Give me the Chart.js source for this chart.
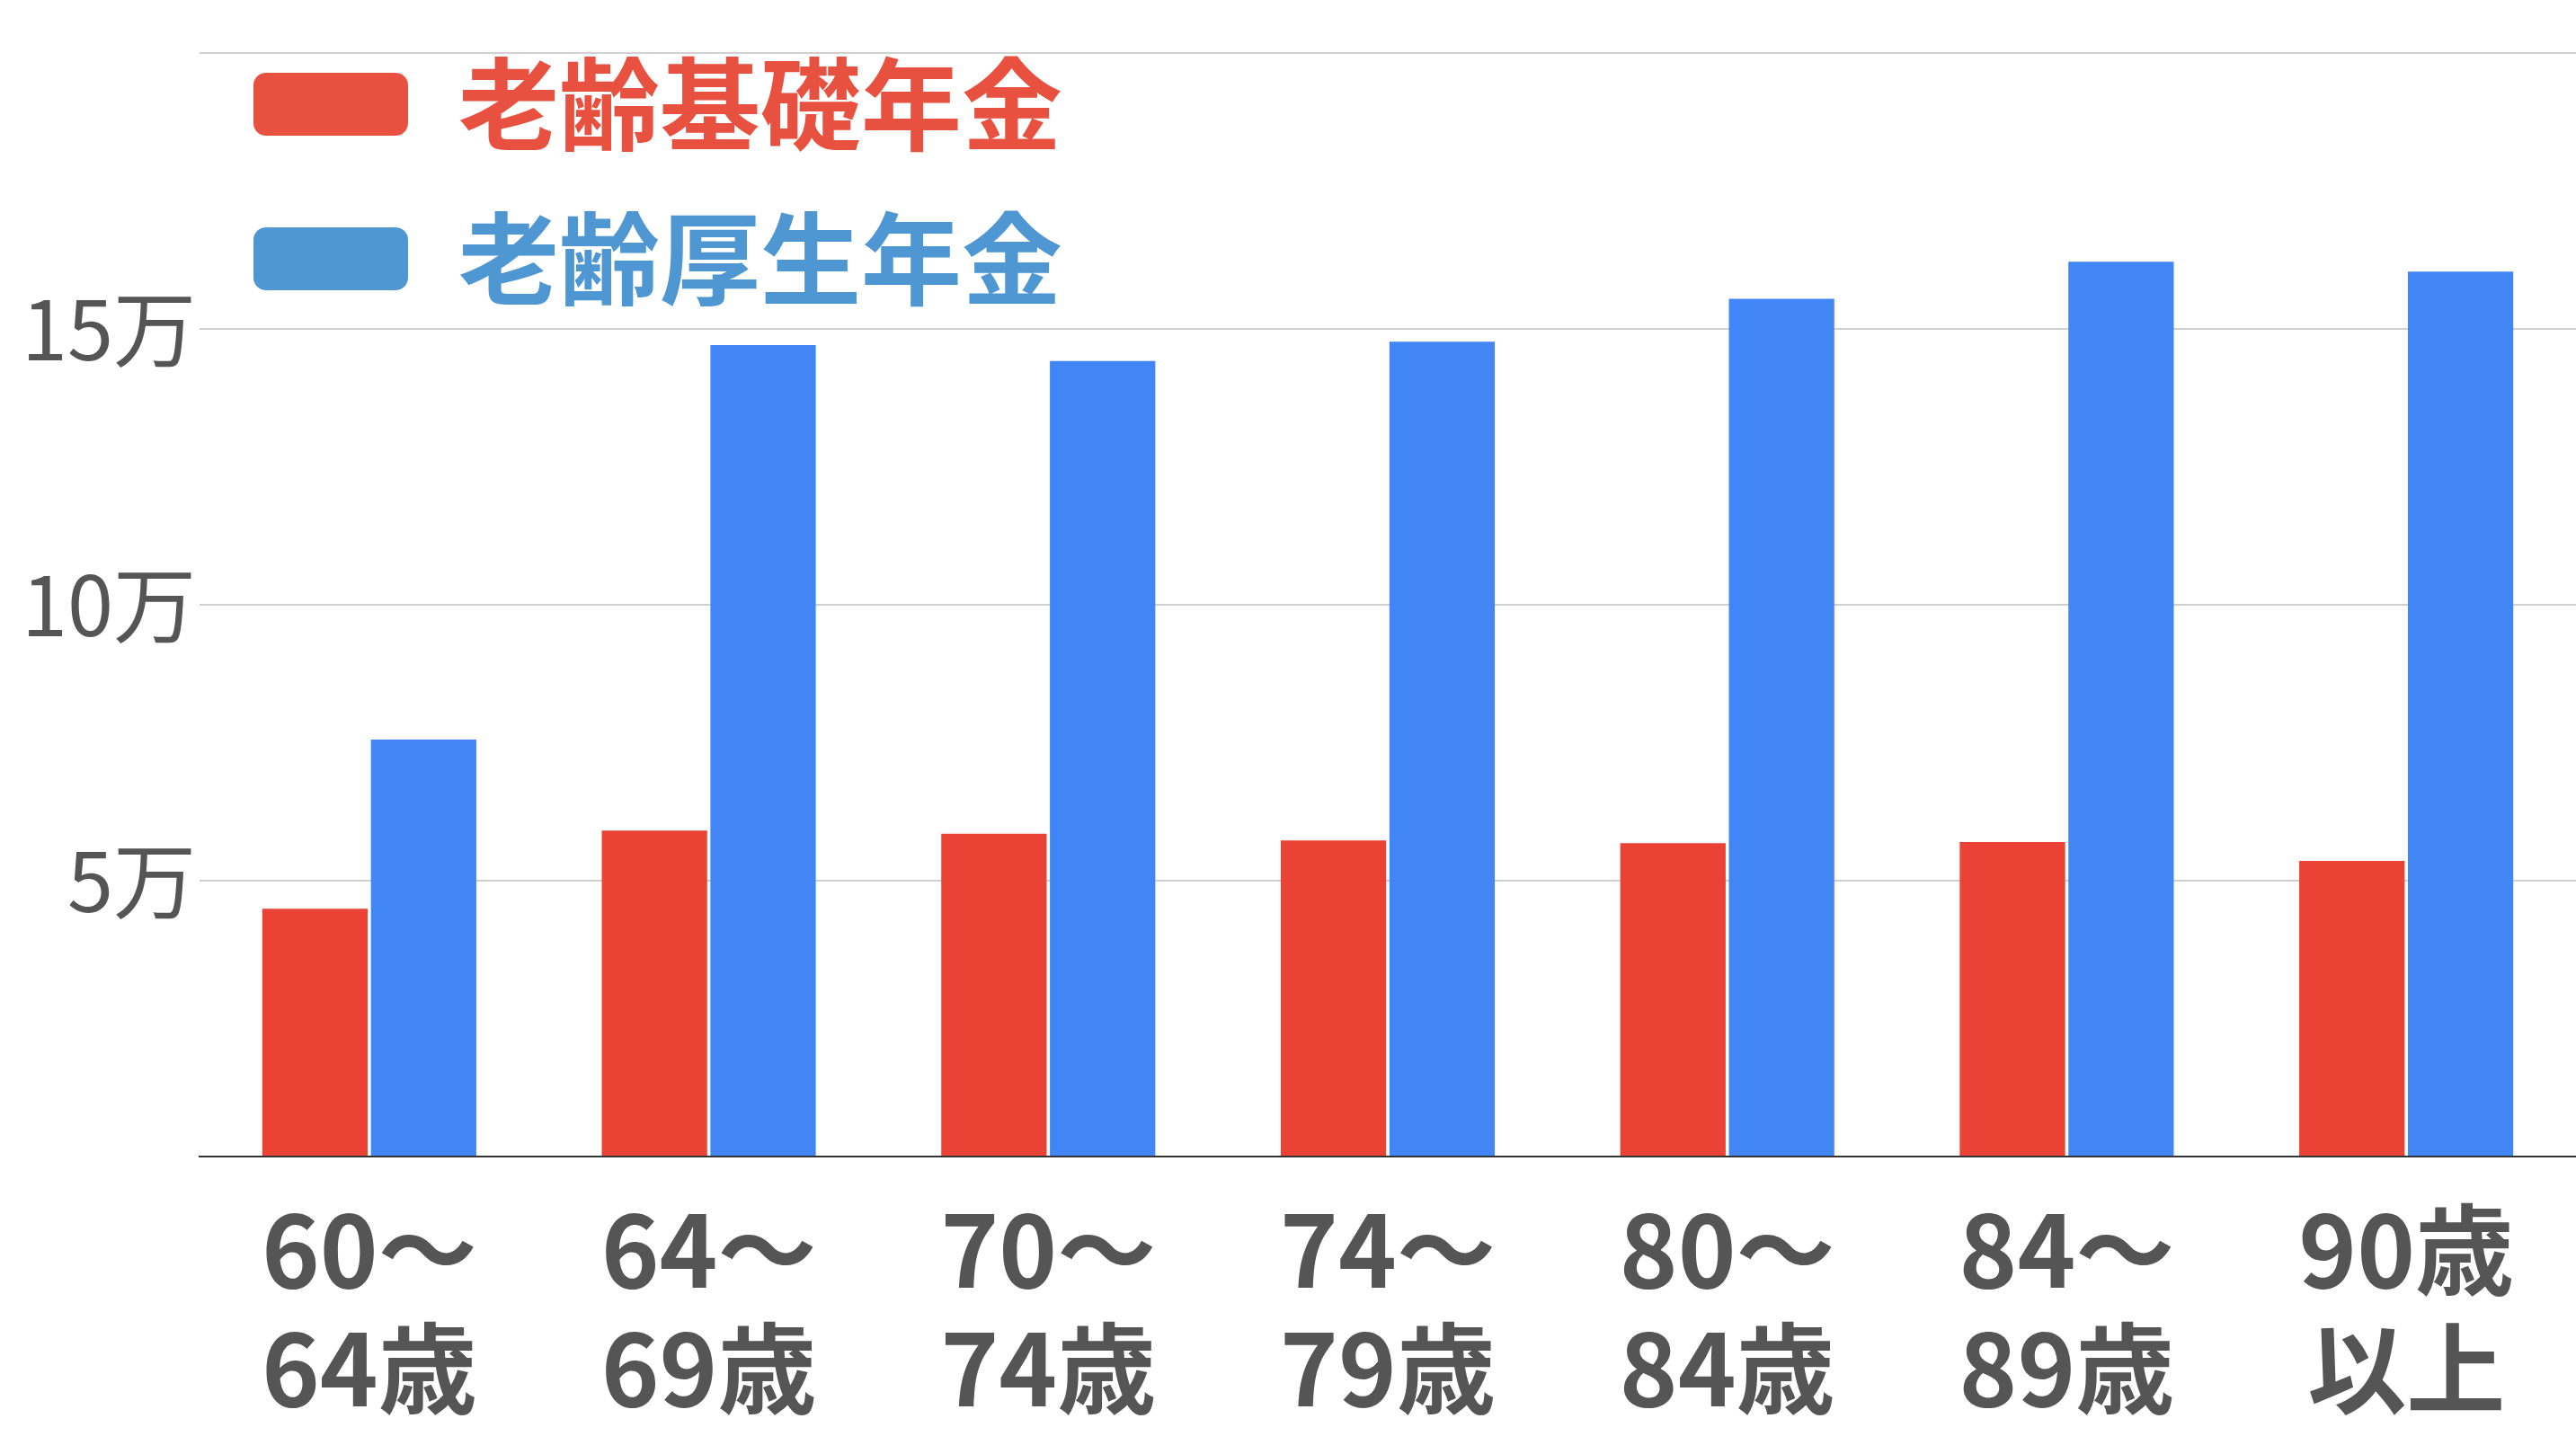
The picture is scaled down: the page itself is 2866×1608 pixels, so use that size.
<!DOCTYPE html>
<html>
<head>
<meta charset="utf-8">
<script src="https://cdn.jsdelivr.net/npm/chart.js@4"></script>
<style>
  html, body { margin: 0; padding: 0; background: #fff; }
  #wrap { width: 2866px; height: 1608px; }
</style>
</head>
<body>
<div id="wrap"><canvas id="chart"></canvas></div>
<script>
// === DATOS ===
const categorias = [["60～", "64歳"], ["64～", "69歳"], ["70～", "74歳"], ["74～", "79歳"], ["80～", "84歳"], ["84～", "89歳"], ["90歳", "以上"]];
const kiso = [4.49, 5.91, 5.85, 5.73, 5.68, 5.70, 5.36];
const kosei = [7.56, 14.71, 14.42, 14.77, 15.55, 16.22, 16.04];
const series = ["老齢基礎年金", "老齢厚生年金"];
const legendColors = ["#e8513f", "#4f97d3"];

const fontJP = "'Noto Sans CJK JP', 'Noto Sans', sans-serif";

new Chart(document.getElementById("chart"), {
  type: "bar",
  data: {
    labels: categorias,
    datasets: [
      { label: series[0], data: kiso, backgroundColor: "#ea4335", barPercentage: 0.97, categoryPercentage: 0.64 },
      { label: series[1], data: kosei, backgroundColor: "#4285f4", barPercentage: 0.97, categoryPercentage: 0.64 }
    ]
  },
  options: {
    responsive: true,
    maintainAspectRatio: false,
    animation: false,
    layout: { padding: { top: 26, right: 0, left: 0, bottom: 0 } },
    plugins: {
      tooltip: { enabled: false },
      legend: {
        position: "chartArea",
        align: "start",
        maxWidth: 2800,
        labels: {
          boxWidth: 172,
          boxHeight: 70,
          useBorderRadius: true,
          borderRadius: 14,
          padding: 60,
          font: { family: fontJP, size: 112, weight: "bold" },
          generateLabels: chart => chart.data.datasets.map((d, i) => ({
            text: d.label,
            fillStyle: legendColors[i],
            strokeStyle: legendColors[i],
            lineWidth: 0,
            fontColor: legendColors[i],
            datasetIndex: i,
            borderRadius: 14
          }))
        }
      }
    },
    scales: {
      x: {
        grid: { display: false },
        border: { color: "#333", width: 2 },
        ticks: {
          color: "#555",
          padding: 30,
          font: { family: fontJP, size: 110, weight: "bold", lineHeight: 1.2 }
        },
        afterFit: s => { s.height = 321; }
      },
      y: {
        min: 0,
        max: 20,
        grid: { color: "#d0d0d0", lineWidth: 2, drawTicks: false },
        border: { display: false },
        ticks: {
          stepSize: 5,
          color: "#555",
          padding: 4,
          font: { family: fontJP, size: 92 },
          callback: v => (v === 0 || v === 20) ? "" : v + "万"
        },
        afterFit: s => { s.width = 222; }
      }
    }
  }
});
</script>
</body>
</html>
